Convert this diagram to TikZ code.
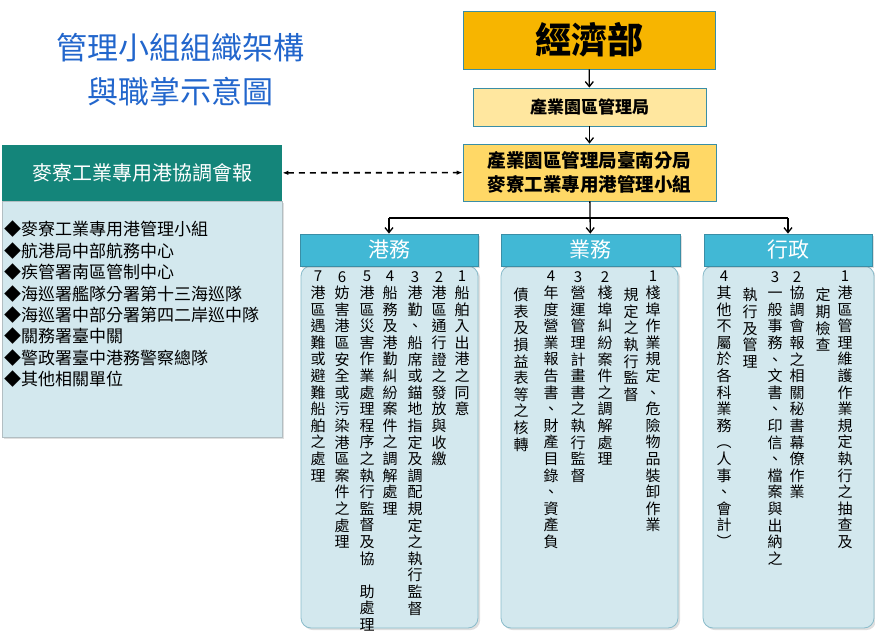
\documentclass[tikz,border=0pt]{standalone}
\usepackage{fontspec}
\newfontfamily\cjk{Noto Sans CJK TC}
\usetikzlibrary{positioning,arrows.meta,shadows}
\definecolor{gold}{HTML}{F7B500}
\definecolor{paleyel}{HTML}{FFE79F}
\definecolor{midyel}{HTML}{FFD866}
\definecolor{cyanhd}{HTML}{41B8D5}
\definecolor{pale}{HTML}{D3E8EE}
\definecolor{frame}{HTML}{3A8EA6}
\definecolor{teal}{HTML}{14857A}
\definecolor{titleblue}{HTML}{2266CC}
% one character per line
\def\vloop#1{\ifx#1\relax\else#1\\\expandafter\vloop\fi}
\newcommand\vcol[3]{\node[vtext] (#1) at (#2) {\vloop#3\relax};}

\begin{document}
\begin{tikzpicture}[x=1pt,y=-1pt,
	unit/.style={
		rectangle,draw=frame,thick,inner sep=0pt},
	head/.style={
		unit,fill=cyanhd,text=white,minimum height=32pt,
		font=\cjk\fontsize{21}{24}\selectfont,drop shadow={opacity=0.25}},
	body/.style={
		unit,draw=frame!60,fill=pale,rounded corners=10pt,minimum height=362pt,
		drop shadow={opacity=0.25}},
	vtext/.style={
		anchor=north,inner sep=0pt,text width=16pt,align=center,
		font=\cjk\fontsize{15}{16.6}\selectfont},
	arr/.style={
		-{Straight Barb[length=5pt,width=8pt]},line width=1.3pt},
	link/.style={
		line width=1.3pt}]
\useasboundingbox (0,0) rectangle (875,631);
% title
\node[text=titleblue,font=\cjk\fontsize{31}{44}\selectfont,align=center] (title) at (180,70) {管理小組組織架構\\與職掌示意圖};
% main line
\node[unit,fill=gold,minimum width=252pt,minimum height=58pt,font=\cjk\bfseries\fontsize{36}{40}\selectfont] (moea) at (589,40) {經濟部};
\node[unit,fill=paleyel,minimum width=233pt,minimum height=38pt,font=\cjk\bfseries\fontsize{17}{20}\selectfont] (bureau) at (589.5,107) {產業園區管理局};
\node[unit,fill=midyel,minimum width=253pt,minimum height=57pt,align=center,font=\cjk\bfseries\fontsize{18.5}{24}\selectfont] (branch) at (589.5,172.5) {產業園區管理局臺南分局\\麥寮工業專用港管理小組};
% coordination meeting
\node[unit,draw=pale!60!gray,fill=pale,minimum width=280pt,minimum height=236pt,drop shadow={opacity=0.25}] (mbody) at (142,319) {};
\node[unit,draw=none,fill=teal,text=white,minimum width=280pt,minimum height=56pt,font=\cjk\fontsize{20}{24}\selectfont] (meet) at (142,173) {麥寮工業專用港協調會報};
\node[anchor=north west,inner sep=0pt,align=left,font=\cjk\fontsize{17}{21.4}\selectfont] (members) at (4,221) {◆麥寮工業專用港管理小組\\◆航港局中部航務中心\\◆疾管署南區管制中心\\◆海巡署艦隊分署第十三海巡隊\\◆海巡署中部分署第四二岸巡中隊\\◆關務署臺中關\\◆警政署臺中港務警察總隊\\◆其他相關單位};
% sections
\node[body,minimum width=177pt] (hbody) at (389.5,447) {};
\node[body,minimum width=177pt] (bbody) at (589.5,447) {};
\node[body,minimum width=171pt] (abody) at (788.5,447) {};
\node[head,minimum width=178pt] (harbor) at (389,250) {港務};
\node[head,minimum width=179pt] (business) at (590.5,250) {業務};
\node[head,minimum width=168pt] (admin) at (788,250) {行政};
% connectors
\coordinate (bar) at (589.5,218);
\draw[arr] (moea) -- (bureau);
\draw[arr] (bureau) -- (branch);
\draw[arr] (branch) -- (business);
\draw[link] (harbor.north |- bar) -- (admin.north |- bar);
\draw[arr] (harbor.north |- bar) -- (harbor);
\draw[arr] (admin.north |- bar) -- (admin);
\draw[{Latex[length=6pt]}-{Latex[length=6pt]},line width=1.6pt,dash pattern=on 6pt off 5pt] (meet) -- (branch);
% harbor duties
\vcol{h1}{462,271}{1船舶入出港之同意}
\vcol{h2}{439,271}{2港區通行證之發放與收繳}
\vcol{h3}{415,271}{3港勤、船席或錨地指定及調配規定之執行監督}
\vcol{h4}{390,271}{4船務及港勤糾紛案件之調解處理}
\vcol{h5}{367,271}{5港區災害作業處理程序之執行監督及協~助處理}
\vcol{h6}{342,271}{6妨害港區安全或污染港區案件之處理}
\vcol{h7}{318,271}{7港區遇難或避難船舶之處理}
% business duties
\vcol{b1}{653,271}{1棧埠作業規定、危險物品裝卸作業}
\vcol{b1x}{631,288}{規定之執行監督}
\vcol{b2}{605,271}{2棧埠糾紛案件之調解處理}
\vcol{b3}{578,271}{3營運管理計畫書之執行監督}
\vcol{b4}{551,271}{4年度營業報告書、財產目錄、資產負}
\vcol{b4x}{521,288}{債表及損益表等之核轉}
% admin duties
\vcol{a1}{845,271}{1港區管理維護作業規定執行之抽查及}
\vcol{a1x}{823,288}{定期檢查}
\vcol{a2}{797,271}{2協調會報之相關秘書幕僚作業}
\vcol{a3}{775,271}{3一般事務、文書、印信、檔案與出納之}
\vcol{a3x}{750,288}{執行及管理}
\vcol{a4}{724,271}{4其他不屬於各科業務︵人事、會計︶}
\end{tikzpicture}
\end{document}
